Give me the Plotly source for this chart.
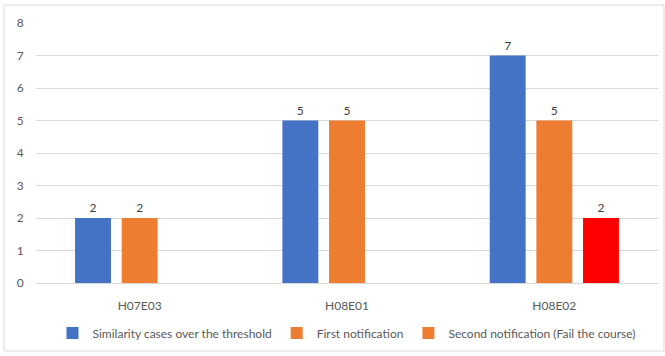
import plotly.graph_objects as go

# Exercises and the counts per outcome
exercises = ["H07E03", "H08E01", "H08E02"]
similarity_cases = [2, 5, 7]
first_notification = [2, 5, 5]
second_notification = [None, None, 2]

series_names = [
    "Similarity cases over the threshold",
    "First notification",
    "Second notification (Fail the course)",
]

BLUE = "#4472C4"
ORANGE = "#ED7D31"
RED = "#FF0000"
TEXT = "#595959"
GRID = "#D9D9D9"
FONT = "Lato, Open Sans, sans-serif"

fig = go.Figure()

def add_series(name, values, color):
    fig.add_trace(go.Bar(
        x=exercises,
        y=values,
        name=name,
        marker=dict(color=color, line=dict(width=0)),
        texttemplate="%{y}",
        textposition="outside",
        textfont=dict(size=12, color="#404040", family=FONT),
        cliponaxis=False,
    ))

add_series(series_names[0], similarity_cases, BLUE)
add_series(series_names[1], first_notification, ORANGE)
# Legend swatch stays orange; the failing bar itself is highlighted in red
add_series(series_names[2], second_notification, [ORANGE, ORANGE, RED])

fig.update_layout(
    width=665,
    height=356,
    margin=dict(l=36, r=7, t=23, b=73),
    paper_bgcolor="white",
    plot_bgcolor="white",
    barmode="group",
    bargap=0.325,
    bargroupgap=0.23,
    font=dict(family=FONT, size=12, color=TEXT),
    showlegend=True,
    legend=dict(
        orientation="h",
        x=0.5, xanchor="center",
        y=-0.192, yanchor="middle",
        font=dict(size=12, color=TEXT, family=FONT),
        itemwidth=30,
        traceorder="normal",
    ),
    xaxis=dict(
        showgrid=False,
        showline=False,
        zeroline=False,
        ticks="outside",
        ticklen=12,
        tickcolor="rgba(0,0,0,0)",
        tickfont=dict(size=12, color=TEXT),
    ),
    yaxis=dict(
        range=[0, 8],
        dtick=1,
        showgrid=True,
        gridcolor=GRID,
        gridwidth=1,
        zeroline=True,
        zerolinecolor=GRID,
        zerolinewidth=1,
        showline=False,
        ticks="outside",
        ticklen=9,
        tickcolor="rgba(0,0,0,0)",
        tickfont=dict(size=12, color=TEXT),
    ),
    shapes=[dict(
        type="rect",
        xref="paper", yref="paper",
        x0=-0.0514, x1=1.0096, y0=-0.2615, y1=1.069,
        line=dict(color=GRID, width=1),
        fillcolor="rgba(0,0,0,0)",
        layer="below",
    )],
)

fig.write_html("out.html")
